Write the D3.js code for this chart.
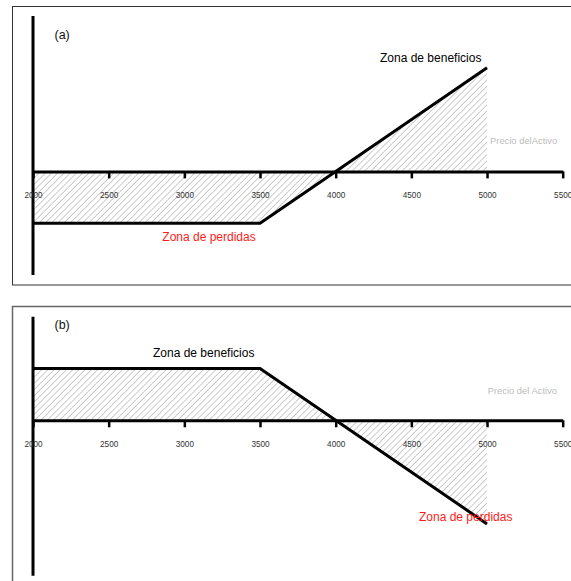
<!DOCTYPE html>
<html>
<head>
<meta charset="utf-8">
<script src="https://cdn.jsdelivr.net/npm/d3@7"></script>
<style>
  html, body { margin: 0; padding: 0; background: #fff; }
  svg { display: block; font-family: "Liberation Sans", Arial, sans-serif; }
</style>
</head>
<body>
<svg id="chart" width="571" height="581"></svg>
<script>
// ---- data ----
const tickValues = [2000, 2500, 3000, 3500, 4000, 4500, 5000, 5500];
const prices = [2000, 3500, 4000, 5000];
const payoffA = [-500, -500, 0, 1000];
const payoffB = [500, 500, 0, -1000];
const yDomainA = [-1000, 1500];
const yDomainB = [-1500, 1000];
const panelLabels = ["(a)", "(b)"];
const profitLabel = "Zona de beneficios";
const lossLabel = "Zona de perdidas";
const priceLabels = ["Precio delActivo", "Precio del Activo"];

const svg = d3.select("#chart");

// hatch pattern
const defs = svg.append("defs");
defs.append("pattern")
  .attr("id", "hatch")
  .attr("patternUnits", "userSpaceOnUse")
  .attr("width", 4.4).attr("height", 4.4)
  .attr("patternTransform", "rotate(45)")
  .append("line")
  .attr("x1", 0).attr("y1", 0).attr("x2", 0).attr("y2", 4.4)
  .attr("stroke", "#9a9a9a").attr("stroke-width", 1);

const x = d3.scaleLinear().domain([2000, 5500]).range([33, 562.7]);

function panel(cfg) {
  const g = svg.append("g");
  const y = d3.scaleLinear().domain(cfg.yDomain).range(cfg.yRange);
  const data = prices.map((p, i) => ({p, v: cfg.payoff[i]}));

  // frame
  g.append("rect")
    .attr("x", 12.5).attr("y", cfg.frameTop)
    .attr("width", 600).attr("height", cfg.frameH)
    .attr("fill", "none").attr("stroke", cfg.frameColor).attr("stroke-width", cfg.frameW);

  // hatched area
  const area = d3.area().x(d => x(d.p)).y0(y(0)).y1(d => y(d.v));
  g.append("path").datum(data).attr("d", area).attr("fill", "url(#hatch)");

  // vertical axis
  g.append("line")
    .attr("x1", x(2000)).attr("x2", x(2000))
    .attr("y1", y(cfg.yDomain[0])).attr("y2", y(cfg.yDomain[1]))
    .attr("stroke", "#000").attr("stroke-width", 3);

  // horizontal axis
  const ax = g.append("g")
    .attr("transform", `translate(0,${y(0)})`)
    .call(d3.axisBottom(x).tickValues(tickValues).tickSize(7).tickSizeOuter(0).tickFormat(d3.format("d")));
  ax.select(".domain").attr("stroke", "#000").attr("stroke-width", 3);
  ax.selectAll(".tick line").attr("stroke", "#000").attr("stroke-width", 2.5);
  ax.selectAll(".tick text")
    .attr("y", 26.6).attr("dy", 0)
    .attr("fill", "#333").attr("font-size", 8.2)
    .attr("font-family", "Liberation Sans, Arial, sans-serif");

  // payoff line
  const line = d3.line().x(d => x(d.p)).y(d => y(d.v));
  g.append("path").datum(data).attr("d", line)
    .attr("fill", "none").attr("stroke", "#000").attr("stroke-width", 3)
    .attr("stroke-linejoin", "miter");

  // texts
  g.append("text").attr("x", 54.5).attr("y", cfg.labelY)
    .attr("font-size", 12.5).attr("fill", "#111").text(cfg.label);
  g.append("text").attr("x", cfg.profitX).attr("y", cfg.profitY)
    .attr("font-size", 12).attr("fill", "#000").text(profitLabel);
  g.append("text").attr("x", cfg.lossX).attr("y", cfg.lossY)
    .attr("font-size", 12).attr("fill", "#ff1a1a").text(lossLabel);
  g.append("text").attr("x", cfg.priceX).attr("y", cfg.priceY)
    .attr("font-size", 9.4).attr("fill", "#bdbdbd").text(cfg.priceLabel);
}

panel({
  yDomain: yDomainA, yRange: [275, 16], payoff: payoffA,
  frameTop: 6.5, frameH: 278.5, frameColor: "#333", frameW: 1,
  label: panelLabels[0], labelY: 39.3,
  profitX: 380, profitY: 61.5,
  lossX: 162.3, lossY: 241.3,
  priceX: 490, priceY: 144, priceLabel: priceLabels[0]
});

panel({
  yDomain: yDomainB, yRange: [575.7, 316.7], payoff: payoffB,
  frameTop: 306.5, frameH: 400, frameColor: "#666", frameW: 1.5,
  label: panelLabels[1], labelY: 329.3,
  profitX: 153, profitY: 356.6,
  lossX: 419, lossY: 520.5,
  priceX: 487.7, priceY: 394, priceLabel: priceLabels[1]
});
</script>
</body>
</html>
